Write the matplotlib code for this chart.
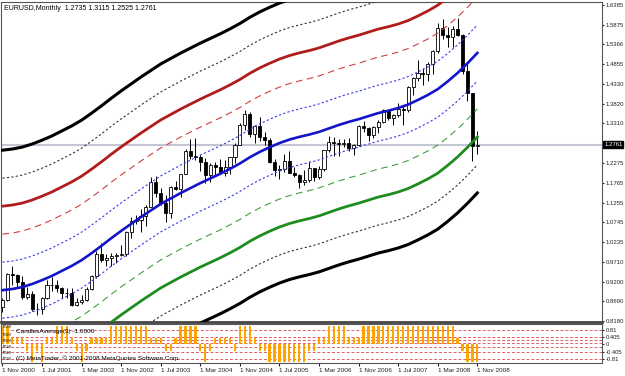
import matplotlib
matplotlib.use("Agg")
import matplotlib.pyplot as plt
import numpy as np

# EURUSD monthly candles, Nov 2000 .. Nov 2008
opens = [0.8545, 0.8735, 0.9395, 0.9370, 0.9200, 0.8790, 0.8875, 0.8485, 0.8490, 0.8765,
         0.9120, 0.9110, 0.9030, 0.8895, 0.8900, 0.8600, 0.8680, 0.8720, 0.9010, 0.9335,
         0.9910, 0.9775, 0.9805, 0.9870, 0.9885, 0.9930, 1.0485, 1.0765, 1.0790, 1.0910,
         1.1150, 1.1800, 1.1500, 1.1240, 1.0990, 1.1650, 1.1600, 1.1995, 1.2590, 1.2470,
         1.2450, 1.2300, 1.1970, 1.2230, 1.2180, 1.2020, 1.2180, 1.2425, 1.2760, 1.3270,
         1.3565, 1.3035, 1.3250, 1.2960, 1.2870, 1.2315, 1.2100, 1.2130, 1.2330, 1.2030,
         1.1980, 1.1790, 1.1840, 1.2155, 1.1920, 1.2120, 1.2620, 1.2815, 1.2790, 1.2770,
         1.2810, 1.2675, 1.2760, 1.3245, 1.3195, 1.3020, 1.3225, 1.3355, 1.3655, 1.3450,
         1.3540, 1.3680, 1.3660, 1.4260, 1.4480, 1.4630, 1.4590, 1.4860, 1.5185, 1.5785,
         1.5610, 1.5545, 1.5755, 1.5605, 1.4670, 1.4090, 1.2735]
highs = [0.8780, 0.9420, 0.9595, 0.9395, 0.9335, 0.9050, 0.8960, 0.8650, 0.8800, 0.9235,
         0.9330, 0.9235, 0.9060, 0.9040, 0.9040, 0.8780, 0.8850, 0.9050, 0.9380, 0.9990,
         1.0195, 0.9915, 0.9950, 0.9950, 1.0140, 1.0505, 1.0870, 1.0935, 1.1080, 1.1185,
         1.1930, 1.1935, 1.1640, 1.1440, 1.1690, 1.1825, 1.2000, 1.2650, 1.2900, 1.2930,
         1.2480, 1.2420, 1.2275, 1.2315, 1.2380, 1.2350, 1.2445, 1.2805, 1.3315, 1.3665,
         1.3600, 1.3265, 1.3485, 1.3100, 1.2935, 1.2395, 1.2225, 1.2510, 1.2585, 1.2170,
         1.2000, 1.2100, 1.2325, 1.2165, 1.2200, 1.2625, 1.2980, 1.2955, 1.2900, 1.2905,
         1.2935, 1.2785, 1.3275, 1.3365, 1.3215, 1.3240, 1.3390, 1.3680, 1.3670, 1.3550,
         1.3850, 1.3800, 1.4280, 1.4525, 1.4965, 1.4760, 1.4895, 1.5225, 1.5905, 1.6020,
         1.5815, 1.5845, 1.6040, 1.5620, 1.4865, 1.4095, 1.3115]
lows = [0.8405, 0.8695, 0.9125, 0.9055, 0.8740, 0.8755, 0.8435, 0.8345, 0.8365, 0.8745,
        0.8960, 0.8930, 0.8775, 0.8765, 0.8560, 0.8565, 0.8620, 0.8690, 0.8990, 0.9290,
        0.9710, 0.9605, 0.9620, 0.9690, 0.9860, 0.9860, 1.0335, 1.0690, 1.0500, 1.0650,
        1.1140, 1.1410, 1.1180, 1.0760, 1.0850, 1.1575, 1.1400, 1.1990, 1.2375, 1.2355,
        1.2085, 1.1760, 1.1800, 1.1950, 1.2010, 1.1950, 1.2000, 1.2270, 1.2745, 1.3150,
        1.2950, 1.2805, 1.2860, 1.2760, 1.2295, 1.1955, 1.1865, 1.2045, 1.2010, 1.1915,
        1.1640, 1.1710, 1.1800, 1.1825, 1.1860, 1.2070, 1.2570, 1.2455, 1.2460, 1.2700,
        1.2600, 1.2480, 1.2720, 1.3090, 1.2865, 1.2930, 1.3065, 1.3315, 1.3410, 1.3265,
        1.3475, 1.3260, 1.3600, 1.4040, 1.4400, 1.4310, 1.4400, 1.4595, 1.5140, 1.5510,
        1.5285, 1.5305, 1.5585, 1.4585, 1.3880, 1.2330, 1.2525]
closes = [0.8735, 0.9395, 0.9370, 0.9200, 0.8790, 0.8875, 0.8485, 0.8490, 0.8765, 0.9120,
          0.9110, 0.9030, 0.8895, 0.8900, 0.8600, 0.8680, 0.8720, 0.9010, 0.9335, 0.9910,
          0.9775, 0.9805, 0.9870, 0.9885, 0.9930, 1.0485, 1.0765, 1.0790, 1.0910, 1.1150,
          1.1800, 1.1500, 1.1240, 1.0990, 1.1650, 1.1600, 1.1995, 1.2590, 1.2470, 1.2450,
          1.2300, 1.1970, 1.2230, 1.2180, 1.2020, 1.2180, 1.2425, 1.2760, 1.3270, 1.3565,
          1.3035, 1.3250, 1.2960, 1.2870, 1.2315, 1.2100, 1.2130, 1.2330, 1.2030, 1.1980,
          1.1790, 1.1840, 1.2155, 1.1920, 1.2120, 1.2620, 1.2815, 1.2790, 1.2770, 1.2810,
          1.2675, 1.2760, 1.3245, 1.3195, 1.3020, 1.3225, 1.3355, 1.3655, 1.3450, 1.3540,
          1.3680, 1.3660, 1.4260, 1.4480, 1.4630, 1.4590, 1.4860, 1.5185, 1.5785, 1.5610,
          1.5545, 1.5755, 1.5605, 1.4670, 1.4090, 1.2730, 1.2761]

# regression channel: middle line read every 2 bars, bands are equal steps away
center_bars = list(range(0, 97, 2))
center_vals = [0.898, 0.901, 0.906, 0.914, 0.924, 0.935, 0.948, 0.961, 0.976, 0.994,
               1.013, 1.033, 1.052, 1.070, 1.088, 1.105, 1.122, 1.136, 1.150, 1.163,
               1.176, 1.188, 1.200, 1.213, 1.227, 1.243, 1.257, 1.269, 1.280, 1.289,
               1.296, 1.302, 1.309, 1.318, 1.327, 1.335, 1.342, 1.350, 1.358, 1.364,
               1.371, 1.380, 1.392, 1.405, 1.420, 1.440, 1.462, 1.487, 1.514]
band_step = 0.0727

# lower window histogram
signal = [1, 1, 0.35, 0.35, 0.35, -0.4, -1, -0.4, -1, 0.35,
          0.35, 1, 1, 1, 0.35, -0.4, -1, -0.4, 0.35, 0.35,
          0.35, 0.35, 1, 1, 1, 1, 1, 1, 1, 1,
          0.35, 0.35, 0.35, -0.4, -0.4, 0.35, 1, 1, 1, 1,
          -0.4, -1, -0.4, 0.35, 0.35, 0.35, 0.35, -0.4, 1, 1,
          1, 0.35, -0.4, -0.4, -1, -1, -1, -1, -1, -1,
          -1, -1, -0.4, -0.4, 0.35, 0.35, 1, 1, 1, 1,
          0.35, 0.35, 0.35, 1, 1, 1, 1, 1, 1, 1,
          1, 1, 1, 1, 1, 1, 1, 1, 1, 1,
          1, 1, 0.35, -0.4, -1, -1, -1]

price_ticks = [1.6385, 1.5875, 1.5366, 1.4855, 1.4330, 1.3820, 1.3310, 1.2275,
               1.1765, 1.1255, 1.0745, 1.0235, 0.9710, 0.9200, 0.8690, 0.8180]
last_price = 1.2761
date_labels = ["1 Nov 2000", "1 Jul 2001", "1 Mar 2002", "1 Nov 2002", "1 Jul 2003",
               "1 Mar 2004", "1 Nov 2004", "1 Jul 2005", "1 Mar 2006", "1 Nov 2006",
               "1 Jul 2007", "1 Mar 2008", "1 Nov 2008"]
sig_levels = [0.81, 0.405, 0.25, 0.08, -0.17, -0.405, -0.81]
sig_ticks = [0.81, 0.405, 0, -0.405, -0.81]
sig_tick_labels = ["0.81", "0.405", "0", "-0.405", "-0.81"]

plt.rcParams['font.family'] = ['Liberation Sans', 'DejaVu Sans']
W, H = 625, 376
fig = plt.figure(figsize=(W / 100, H / 100), dpi=100)


def box(x0, y0, x1, y1):
    return [x0 / W, 1 - y1 / H, (x1 - x0) / W, (y1 - y0) / H]


ax = fig.add_axes(box(1, 2, 602, 322))
ax2 = fig.add_axes(box(1, 324, 602, 363), sharex=ax)

idx = np.arange(len(closes))
o, h, l, c = map(np.array, (opens, highs, lows, closes))
up = c >= o

ax.axhline(last_price, color="#c4c6d4", lw=1.5, zorder=1)

# candles
ax.vlines(idx, l, h, color="black", lw=0.7, zorder=2)
body_low = np.minimum(o, c)
body_h = np.maximum(np.abs(c - o), 0.0015)
ax.bar(idx[up], body_h[up], bottom=body_low[up], width=0.62, color="white",
       edgecolor="black", lw=0.6, zorder=3)
ax.bar(idx[~up], body_h[~up], bottom=body_low[~up], width=0.62, color="black",
       edgecolor="black", lw=0.6, zorder=3)

# channel lines
center = np.array(center_vals)
ax.plot(center_bars, center, color="#1414c8", lw=1.9, zorder=5, solid_joinstyle="round")
styles = [
    ("#3a3aee", "#3a3aee", 0.8, (0, (2, 2))),
    ("#d04040", "#40a040", 0.8, (0, (6, 4))),
    ("#b01c1c", "#1e8c1e", 2.0, "-"),
    ("#333333", "#333333", 0.8, (0, (2, 2))),
    ("#000000", "#000000", 2.2, "-"),
]
for k, (c_up, c_dn, lw, ls) in enumerate(styles, start=1):
    ax.plot(center_bars, center + k * band_step, color=c_up, lw=lw, ls=ls, zorder=4,
            solid_joinstyle="round")
    ax.plot(center_bars, center - k * band_step, color=c_dn, lw=lw, ls=ls, zorder=4,
            solid_joinstyle="round")

ax.set_xlim(-0.3, 121.2)
ax.set_ylim(0.8153, 1.6463)
ax.yaxis.tick_right()
ax.set_yticks(price_ticks)
ax.set_yticklabels([f"{v:.4f}" for v in price_ticks])
ax.tick_params(axis="y", length=1.5, pad=1, labelsize=4.3, colors="#222222")
ax.tick_params(axis="x", bottom=False, labelbottom=False)
ax.text(1.0035, last_price, f"{last_price:.4f}", transform=ax.get_yaxis_transform(),
        fontsize=4.3, color="white", va="center", ha="left",
        bbox=dict(boxstyle="square,pad=0.12", fc="black", ec="black"))
for s in ax.spines.values():
    s.set_color("#555555")
    s.set_linewidth(0.8)
ax.spines["bottom"].set_linewidth(2)
ax.spines["bottom"].set_color("#444444")

# indicator window
for lv in sig_levels:
    ax2.axhline(lv, color="#e06060", lw=0.7, ls=(0, (3, 2)), zorder=1)
ax2.bar(idx, signal, width=0.45, color="#ffa500", zorder=2)
ax2.set_ylim(-1.04, 1.13)
ax2.yaxis.tick_right()
ax2.set_yticks(sig_ticks)
ax2.set_yticklabels(sig_tick_labels)
ax2.tick_params(axis="y", length=1.5, pad=1, labelsize=4.2, colors="#222222")
ax2.set_xticks(range(0, 97, 8))
ax2.set_xticklabels(date_labels, ha="left")
ax2.tick_params(axis="x", length=2, pad=1.5, labelsize=4.6, colors="#222222")
for s in ax2.spines.values():
    s.set_color("#555555")
    s.set_linewidth(0.8)

# texts
fig.text(4 / W, 1 - 8 / H, "EURUSD,Monthly  1.2735 1.3115 1.2525 1.2761",
         fontsize=5, va="center", ha="left")
fig.text(16 / W, 1 - 331 / H, "CandlesAverage(3) -1.0000", fontsize=4.6, va="center")
fig.text(16 / W, 1 - 358 / H, "(C) MetaTrader, \u00a9 2001-2008 MetaQuotes Software Corp.",
         fontsize=4.6, va="center")
for yy in [327, 334, 340, 346, 352, 358]:
    fig.text(3 / W, 1 - yy / H, "true", fontsize=3.8, va="center", color="#333333")

fig.savefig("out.png", dpi=100)
